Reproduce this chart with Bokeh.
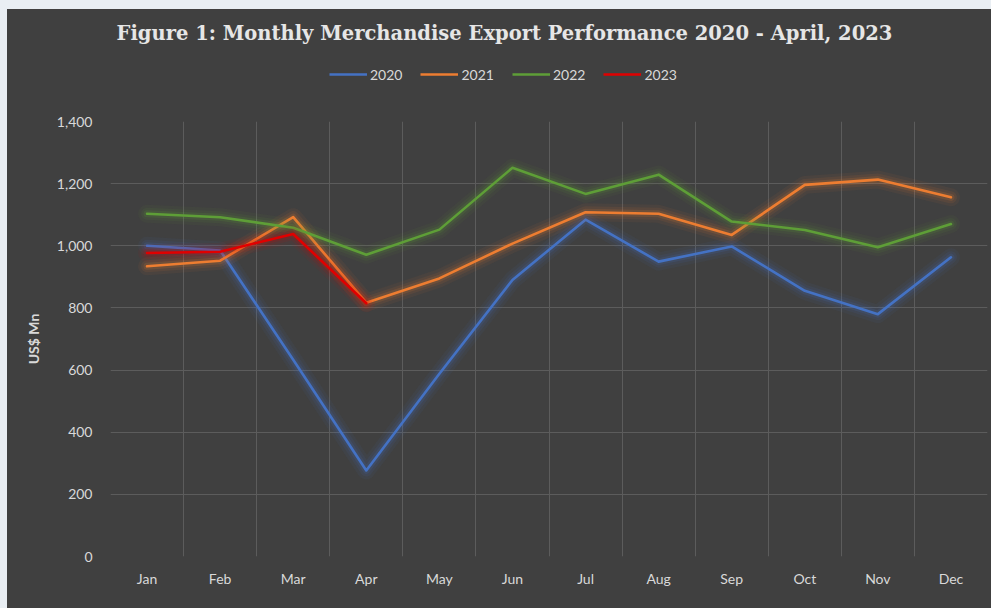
from bokeh.plotting import figure
from bokeh.layouts import column
from bokeh.models import Legend, LegendItem, Label, FixedTicker, ColumnDataSource
from bokeh.embed import file_html
from bokeh.resources import INLINE

months = ["Jan", "Feb", "Mar", "Apr", "May", "Jun", "Jul", "Aug", "Sep", "Oct", "Nov", "Dec"]
exports_2020 = [1000, 985, 633, 277, 588, 890, 1084, 949, 998, 855, 780, 963]
exports_2021 = [934, 952, 1092, 817, 895, 1007, 1108, 1103, 1035, 1196, 1213, 1156]
exports_2022 = [1103, 1092, 1058, 971, 1052, 1251, 1167, 1229, 1078, 1051, 995, 1070]
exports_2023 = [977, 981, 1038, 815]
y_ticks = [0, 200, 400, 600, 800, 1000, 1200, 1400]

series = [
    ("2020", exports_2020, "#4472C4"),
    ("2021", exports_2021, "#ED7D31"),
    ("2022", exports_2022, "#5E9E37"),
    ("2023", exports_2023, "#E00000"),
]

BG = "#404040"
TXT = "#d9d9d9"
W = 984
TOP_H = 100
MAIN_H = 499
LEFT = 103
RIGHT = 4

# ---------- header (title + legend) ----------
head = figure(width=W, height=TOP_H, x_range=(0, 1), y_range=(0, 1),
              output_backend="svg", toolbar_location=None,
              min_border_left=LEFT, min_border_right=RIGHT,
              min_border_top=0, min_border_bottom=0,
              background_fill_color=BG, border_fill_color=BG, outline_line_color=None)
head.axis.visible = False
head.grid.visible = False

# ---------- main chart ----------
p = figure(width=W, height=MAIN_H, x_range=(-0.5, 11.5), y_range=(0, 1400),
           output_backend="svg", toolbar_location=None,
           min_border_left=LEFT, min_border_right=RIGHT, min_border_top=12, min_border_bottom=52,
           background_fill_color=BG, border_fill_color=BG, outline_line_color=None)
p.title = None

p.xgrid.ticker = FixedTicker(ticks=[i - 0.5 for i in range(len(months) + 1)])
p.ygrid.ticker = FixedTicker(ticks=y_ticks[1:])
for g in (p.xgrid, p.ygrid):
    g.grid_line_color = "#5c5c5c"
    g.grid_line_width = 1

p.xaxis.ticker = FixedTicker(ticks=list(range(len(months))))
p.xaxis.major_label_overrides = {i: m for i, m in enumerate(months)}
p.yaxis.ticker = FixedTicker(ticks=y_ticks)
p.yaxis.major_label_overrides = {v: f"{v:,}" for v in y_ticks}
for ax in (p.xaxis, p.yaxis):
    ax.axis_line_color = None
    ax.major_tick_line_color = None
    ax.minor_tick_line_color = None
    ax.major_label_text_color = TXT
    ax.major_label_text_font = "Lato"
    ax.major_label_text_font_size = "14px"
p.xaxis.major_label_standoff = 7
p.yaxis.major_label_standoff = 12
p.yaxis.axis_label = "US$ Mn"
p.yaxis.axis_label_text_font = "Lato"
p.yaxis.axis_label_text_font_size = "14px"
p.yaxis.axis_label_text_font_style = "bold"
p.yaxis.axis_label_text_color = TXT
p.yaxis.axis_label_standoff = 12

items = []
for name, vals, color in series:
    src = ColumnDataSource(dict(x=list(range(len(vals))), y=vals))
    for w, a in ((18, 0.06), (12, 0.09), (7, 0.15)):
        p.line("x", "y", source=src, line_color=color, line_width=w, line_alpha=a,
               line_join="round", line_cap="round")
    p.line("x", "y", source=src, line_color=color, line_width=2.6,
           line_join="round", line_cap="round")
    # same series in the header figure (outside its view) to feed the legend glyphs
    r = head.line("x", "y", source=src, line_color=color, line_width=2.6)
    items.append(LegendItem(label=name, renderers=[r]))

legend = Legend(items=items, orientation="horizontal", location=(219, 25),
                background_fill_alpha=0, border_line_color=None,
                label_text_color=TXT, label_text_font="Lato", label_text_font_size="14px",
                glyph_width=38, label_standoff=3, spacing=18, margin=0, padding=4)
head.add_layout(legend, "center")

title = Label(x=497 - LEFT, y=TOP_H - 24, x_units="screen", y_units="screen",
              text="Figure 1: Monthly Merchandise Export Performance 2020 - April, 2023",
              text_align="center", text_baseline="middle",
              text_font="DejaVu Serif", text_font_style="bold",
              text_font_size="19.5px", text_color="#e6e6e6")
head.add_layout(title)

layout = column(head, p, spacing=0)

html = file_html(layout, INLINE)
css = ("<style>html,body{overflow:hidden !important;}"
       "body{margin:0 !important;padding:0 !important;box-sizing:border-box !important;"
       "background:#404040 !important;border-left:7px solid #e9eef3 !important;"
       "border-top:9px solid #e9eef3 !important;}</style>")
html = html.replace("</head>", css + "</head>", 1)
open("out.html", "w").write(html)
